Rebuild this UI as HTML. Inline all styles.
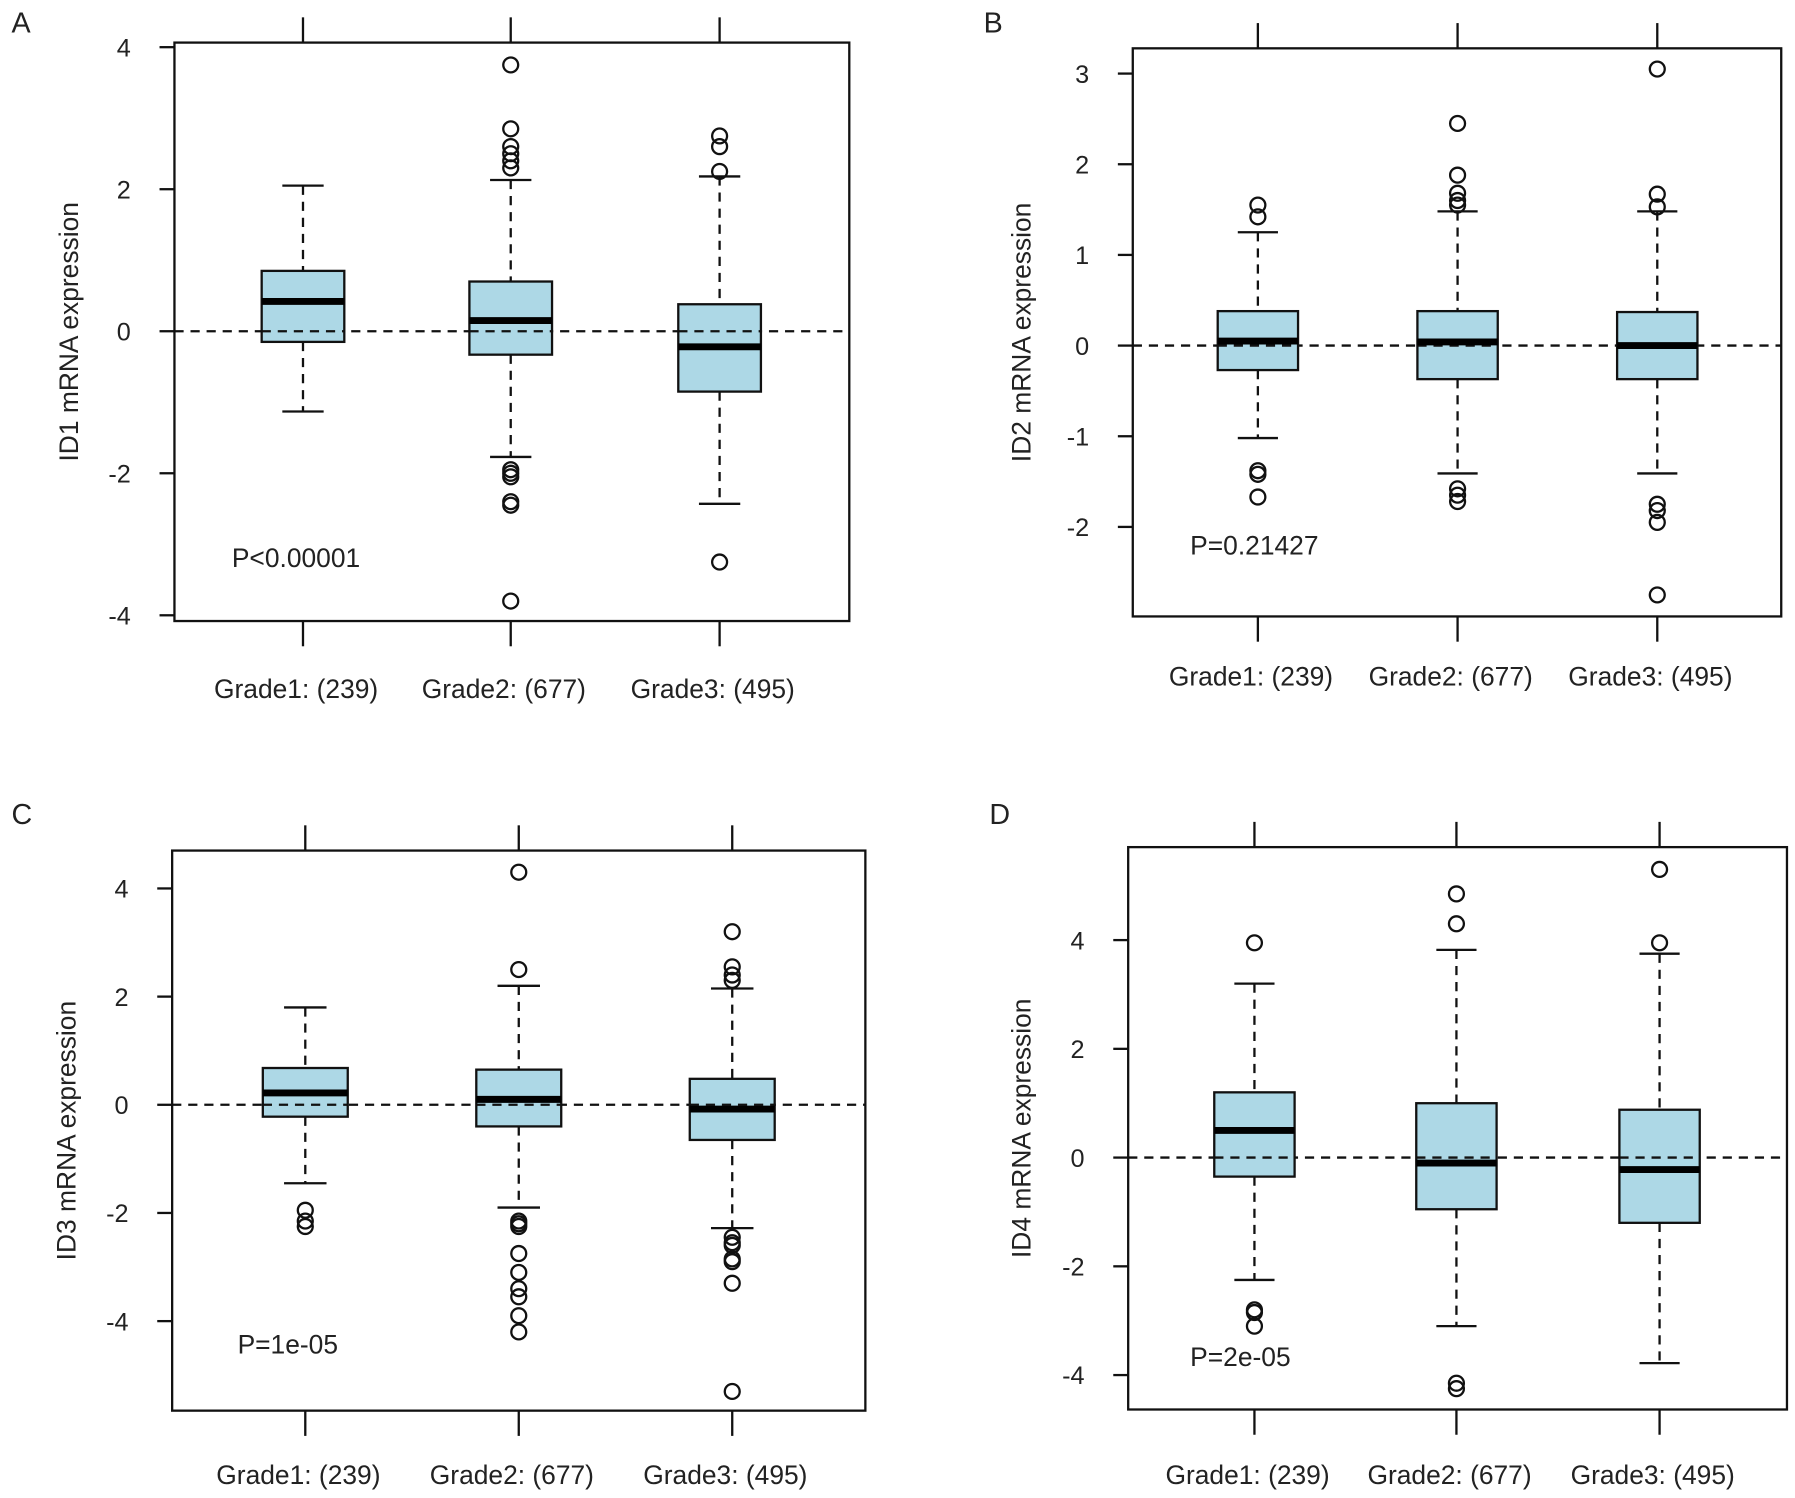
<!DOCTYPE html>
<html><head><meta charset="utf-8"><style>
body{margin:0;background:#fff}
svg{display:block;font-family:"Liberation Sans",Arial,sans-serif}
</style></head><body>
<svg id="fig" width="1795" height="1498" viewBox="0 0 1564 1305" xmlns="http://www.w3.org/2000/svg"></svg>
<script>
const categories = ["Grade1: (239)","Grade2: (677)","Grade3: (495)"];
// [whiskerLo, q1, median, q3, whiskerHi]
const statsA = [[-1.13,-0.15,0.42,0.85,2.05],[-1.77,-0.33,0.15,0.70,2.13],[-2.43,-0.85,-0.22,0.38,2.18]];
const outA = [[],[3.75,2.85,2.6,2.5,2.4,2.3,-1.95,-2.0,-2.05,-2.4,-2.45,-3.8],[2.75,2.6,2.25,-3.25]];
const statsB = [[-1.02,-0.27,0.05,0.38,1.25],[-1.41,-0.37,0.04,0.38,1.48],[-1.41,-0.37,0.0,0.37,1.48]];
const outB = [[1.55,1.42,-1.38,-1.42,-1.67],[2.45,1.88,1.68,1.6,1.55,-1.58,-1.65,-1.72],[3.05,1.67,1.53,-1.75,-1.82,-1.95,-2.75]];
const statsC = [[-1.45,-0.22,0.22,0.68,1.8],[-1.9,-0.4,0.1,0.65,2.2],[-2.28,-0.65,-0.08,0.48,2.15]];
const outC = [[-1.95,-2.15,-2.25],[4.3,2.5,-2.15,-2.2,-2.25,-2.75,-3.1,-3.4,-3.55,-3.9,-4.2],[3.2,2.55,2.4,2.3,-2.45,-2.55,-2.6,-2.85,-2.9,-3.3,-5.3]];
const statsD = [[-2.25,-0.35,0.5,1.2,3.2],[-3.1,-0.95,-0.1,1.0,3.82],[-3.78,-1.2,-0.22,0.88,3.75]];
const outD = [[3.95,-2.8,-2.85,-3.1],[4.85,4.3,-4.15,-4.25],[5.3,3.95]];
const ticksA=[-4,-2,0,2,4], ticksB=[-2,-1,0,1,2,3], ticksC=[-4,-2,0,2,4], ticksD=[-4,-2,0,2,4];

const panels=[
 {id:"a",letter:"A",lx:10,ly:28,x0:152,x1:740,y0:37,y1:541,v0:4,p0:41,v1:-4,p1:536,cx:[264,445,627],bw:72,ticks:ticksA,stats:statsA,out:outA,gene:"ID1",p:"P<0.00001",px:202,py:494,labY:608,alx:68},
 {id:"b",letter:"B",lx:857,ly:28,x0:987,x1:1552,y0:42,y1:537,v0:3,p0:64,v1:-2,p1:459,cx:[1096,1270,1444],bw:70,ticks:ticksB,stats:statsB,out:outB,gene:"ID2",p:"P=0.21427",px:1037,py:483,labY:597,alx:898},
 {id:"c",letter:"C",lx:10,ly:718,x0:150,x1:754,y0:741,y1:1229,v0:4,p0:774,v1:-4,p1:1151,cx:[266,452,638],bw:74,ticks:ticksC,stats:statsC,out:outC,gene:"ID3",p:"P=1e-05",px:207,py:1179,labY:1293,alx:66},
 {id:"d",letter:"D",lx:862,ly:718,x0:983,x1:1557,y0:738,y1:1228,v0:4,p0:819,v1:-4,p1:1198,cx:[1093,1269,1446],bw:70,ticks:ticksD,stats:statsD,out:outD,gene:"ID4",p:"P=2e-05",px:1037,py:1190,labY:1293,alx:898}
];
const svg=document.getElementById('fig');
const NS="http://www.w3.org/2000/svg";
function mk(parent,tag,attrs,text){const e=document.createElementNS(NS,tag);for(const k in attrs)e.setAttribute(k,attrs[k]);if(text!==undefined)e.textContent=text;parent.appendChild(e);return e;}
panels.forEach(P=>{
 const g=mk(svg,'g',{});
 
 
 const y=v=>P.p0+(v-P.v0)*(P.p1-P.p0)/(P.v1-P.v0);
 const L=mk(g,'text',{x:P.lx,y:P.ly,'font-size':25,fill:'#222'},P.letter);
 
 
 const z=mk(g,'line',{x1:P.x0,x2:P.x1,y1:y(0),y2:y(0),stroke:'#111','stroke-width':2,'stroke-dasharray':'8,6'});
 
 
 P.stats.forEach((s,i)=>{
  const cx=P.cx[i],hw=P.bw/2;
  const bg=mk(g,'g',{});
  
  
  mk(bg,'line',{x1:cx,x2:cx,y1:y(s[4]),y2:y(s[3]),stroke:'#111','stroke-width':2,'stroke-dasharray':'8,6'});
  mk(bg,'line',{x1:cx,x2:cx,y1:y(s[1]),y2:y(s[0]),stroke:'#111','stroke-width':2,'stroke-dasharray':'8,6'});
  mk(bg,'line',{x1:cx-hw/2,x2:cx+hw/2,y1:y(s[4]),y2:y(s[4]),stroke:'#111','stroke-width':2});
  mk(bg,'line',{x1:cx-hw/2,x2:cx+hw/2,y1:y(s[0]),y2:y(s[0]),stroke:'#111','stroke-width':2});
  mk(bg,'rect',{x:cx-hw,y:y(s[3]),width:P.bw,height:y(s[1])-y(s[3]),fill:'#add8e6',stroke:'#111','stroke-width':2});
  mk(bg,'line',{x1:cx-hw,x2:cx+hw,y1:y(0),y2:y(0),stroke:'#111','stroke-width':2,'stroke-dasharray':'8,6'});
  mk(bg,'line',{x1:cx-hw,x2:cx+hw,y1:y(s[2]),y2:y(s[2]),stroke:'#000','stroke-width':6});
  P.out[i].forEach(v=>{
   const c=mk(bg,'circle',{cx:cx,cy:y(v),r:6.5,fill:'none',stroke:'#111','stroke-width':2});
   
   
  });
  mk(g,'line',{x1:cx,x2:cx,y1:P.y0-22,y2:P.y0,stroke:'#111','stroke-width':2});
  mk(g,'line',{x1:cx,x2:cx,y1:P.y1,y2:P.y1+22,stroke:'#111','stroke-width':2});
  const t=mk(g,'text',{x:cx-6,y:P.labY,'font-size':23,'text-anchor':'middle',fill:'#222'},categories[i]);
  
  
 });
 const fr=mk(g,'rect',{x:P.x0,y:P.y0,width:P.x1-P.x0,height:P.y1-P.y0,fill:'none',stroke:'#111','stroke-width':2});
 
 
 P.ticks.forEach(v=>{
  mk(g,'line',{x1:P.x0-13,x2:P.x0,y1:y(v),y2:y(v),stroke:'#111','stroke-width':2});
  const t=mk(g,'text',{x:P.x0-38,y:y(v)+8,'font-size':22,'text-anchor':'end',fill:'#222'},String(v));
  
  
 });
 const cy=(P.y0+P.y1)/2;
 const at=mk(g,'text',{x:P.alx,y:cy,'font-size':23,'text-anchor':'middle',fill:'#222',transform:`rotate(-90 ${P.alx} ${cy})`},P.gene+' mRNA expression');
 
 
 const pt=mk(g,'text',{x:P.px,y:P.py,'font-size':23,fill:'#222'},P.p);
 
 
});
</script>
</body></html>
